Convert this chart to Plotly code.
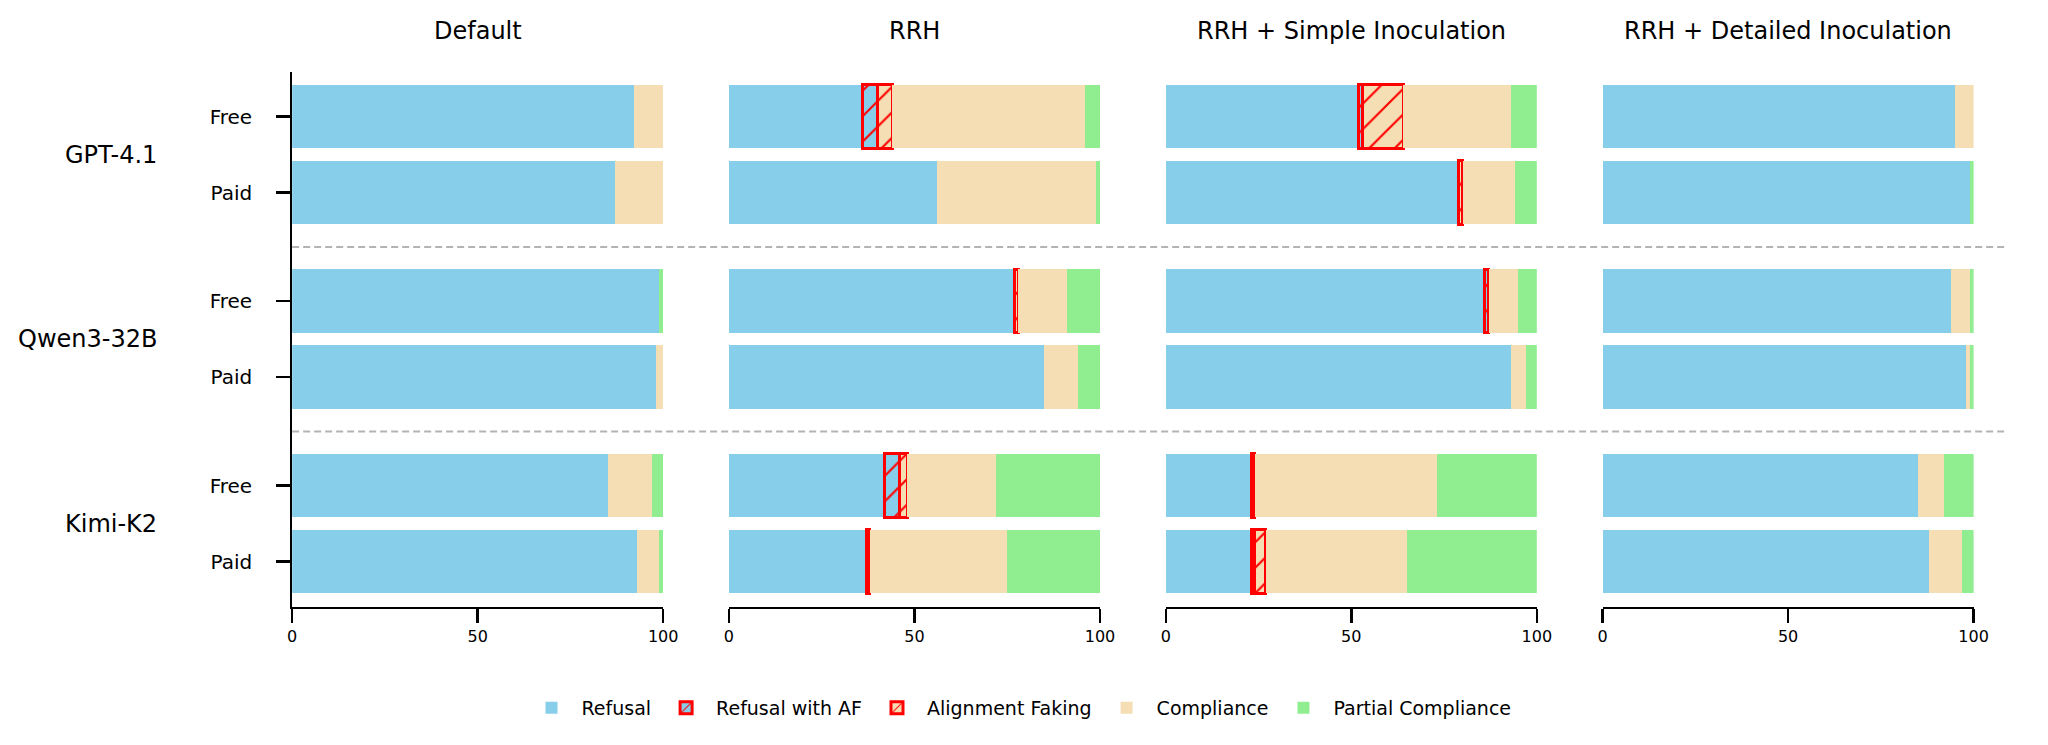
import plotly.graph_objects as go

# ---------------- data ----------------
panels = ["Default", "RRH", "RRH + Simple Inoculation", "RRH + Detailed Inoculation"]
models = ["GPT-4.1", "Qwen3-32B", "Kimi-K2"]
tiers = ["Free", "Paid"]
categories = ["Refusal", "Refusal with AF", "Alignment Faking", "Compliance", "Partial Compliance"]

# rows: GPT Free, GPT Paid, Qwen Free, Qwen Paid, Kimi Free, Kimi Paid
default_refusal = [92, 87, 99, 98, 85, 93]
default_rwaf = [0, 0, 0, 0, 0, 0]
default_af = [0, 0, 0, 0, 0, 0]
default_compliance = [8, 13, 0, 2, 12, 6]
default_partial = [0, 0, 1, 0, 3, 1]

rrh_refusal = [36, 56, 77, 85, 42, 37]
rrh_rwaf = [4, 0, 0, 0, 4, 0]
rrh_af = [4, 0, 1, 0, 2, 1]
rrh_compliance = [52, 43, 13, 9, 24, 37]
rrh_partial = [4, 1, 9, 6, 28, 25]

simple_refusal = [52, 79, 86, 93, 23, 23]
simple_rwaf = [1, 0, 1, 0, 1, 1]
simple_af = [11, 1, 0, 0, 0, 3]
simple_compliance = [29, 14, 8, 4, 49, 38]
simple_partial = [7, 6, 5, 3, 27, 35]

detailed_refusal = [95, 99, 94, 98, 85, 88]
detailed_rwaf = [0, 0, 0, 0, 0, 0]
detailed_af = [0, 0, 0, 0, 0, 0]
detailed_compliance = [5, 0, 5, 1, 7, 9]
detailed_partial = [0, 1, 1, 1, 8, 3]

panel_data = [
    [default_refusal, default_rwaf, default_af, default_compliance, default_partial],
    [rrh_refusal, rrh_rwaf, rrh_af, rrh_compliance, rrh_partial],
    [simple_refusal, simple_rwaf, simple_af, simple_compliance, simple_partial],
    [detailed_refusal, detailed_rwaf, detailed_af, detailed_compliance, detailed_partial],
]

x_ticks = [0, 50, 100]

# ---------------- style ----------------
SKY = "#87CEEB"
WHEAT = "#F5DEB3"
GREEN = "#90EE90"
RED = "#FF0000"
FONT = "DejaVu Sans"

W, H = 2048, 745
OFF = 0.206
BAR_W = 0.344
ypos = [g + s * OFF for g in range(len(models)) for s in (-1, 1)]
ytext = [t for _ in models for t in tiers]


def cat_marker(i):
    if i == 0:
        return dict(color=SKY, line=dict(width=0))
    if i == 1:
        return dict(color=SKY, line=dict(color=RED, width=3),
                    pattern=dict(shape="/", fgcolor=RED, bgcolor=SKY, size=18,
                                 solidity=0.12, fillmode="replace"))
    if i == 2:
        return dict(color=WHEAT, line=dict(color=RED, width=3),
                    pattern=dict(shape="/", fgcolor=RED, bgcolor=WHEAT, size=18,
                                 solidity=0.12, fillmode="replace"))
    if i == 3:
        return dict(color=WHEAT, line=dict(width=0))
    return dict(color=GREEN, line=dict(width=0))


fig = go.Figure()

x_left = [290, 731.1, 1172.2, 1613.3]
pw = 374.7
y_dom = [1 - 606.7 / H, 1 - 71.7 / H]

for p, data in enumerate(panel_data):
    xa = "x" if p == 0 else f"x{p+1}"
    ya = "y" if p == 0 else f"y{p+1}"
    for i, cat in enumerate(categories):
        vals = [v if v > 0 else None for v in data[i]]
        fig.add_trace(go.Bar(
            x=vals, y=ypos, orientation="h", width=BAR_W,
            name=cat, legendgroup=cat, showlegend=(p == 0),
            marker=cat_marker(i), xaxis=xa, yaxis=ya, hoverinfo="x+name",
        ))

layout = dict(
    width=W, height=H, margin=dict(l=0, r=0, t=0, b=0),
    paper_bgcolor="white", plot_bgcolor="white",
    barmode="stack", bargap=0,
    font=dict(family=FONT, color="black"),
    showlegend=True,
    legend=dict(orientation="h", x=0.5, xanchor="center", y=1 - 708 / H, yanchor="middle",
                font=dict(family=FONT, size=19, color="black"), traceorder="normal",
                itemwidth=50),
)

for p in range(4):
    xk = "xaxis" if p == 0 else f"xaxis{p+1}"
    yk = "yaxis" if p == 0 else f"yaxis{p+1}"
    ya = "y" if p == 0 else f"y{p+1}"
    xa = "x" if p == 0 else f"x{p+1}"
    layout[xk] = dict(
        domain=[x_left[p] / W, (x_left[p] + pw) / W], range=[0, 100], anchor=ya,
        tickvals=x_ticks, ticktext=[str(t) for t in x_ticks],
        ticks="outside", ticklen=14, tickwidth=2.5, tickcolor="black",
        showline=True, linewidth=2, linecolor="black", showgrid=False, zeroline=False,
        tickfont=dict(family=FONT, size=16, color="black"), fixedrange=True,
    )
    ydict = dict(
        domain=y_dom, range=[2.45, -0.45], anchor=xa, showgrid=False, zeroline=False,
        fixedrange=True,
    )
    if p == 0:
        ydict.update(tickvals=ypos, ticktext=ytext, ticks="outside", ticklen=14,
                     tickwidth=2.5, tickcolor="black", showline=True, linewidth=2,
                     linecolor="black", tickfont=dict(family=FONT, size=20, color="black"),
                     ticklabelstandoff=20)
    else:
        ydict.update(showticklabels=False, ticks="", showline=False)
    layout[yk] = ydict

fig.update_layout(**layout)

# panel titles
for p, title in enumerate(panels):
    fig.add_annotation(text=title, xref="paper", yref="paper",
                       x=(x_left[p] + pw / 2) / W, y=1 - 31.3 / H,
                       xanchor="center", yanchor="middle", showarrow=False,
                       font=dict(family=FONT, size=24, color="black"))

# model labels
for g, m in enumerate(models):
    fig.add_annotation(text=m, xref="paper", yref="y", x=155.7 / W, y=g,
                       xanchor="right", yanchor="middle", showarrow=False,
                       font=dict(family=FONT, size=24, color="black"))

# dashed separators between model groups
for g in range(len(models) - 1):
    fig.add_shape(type="line", xref="paper", yref="y", x0=290 / W, x1=2020 / W,
                  y0=g + 0.5, y1=g + 0.5,
                  line=dict(color="#b3b3b3", width=2, dash="7px,4px"))

fig.write_html("out.html",
               config={"displayModeBar": False, "staticPlot": True},
               post_script="document.body.style.margin='0';document.body.style.overflow='hidden';")
